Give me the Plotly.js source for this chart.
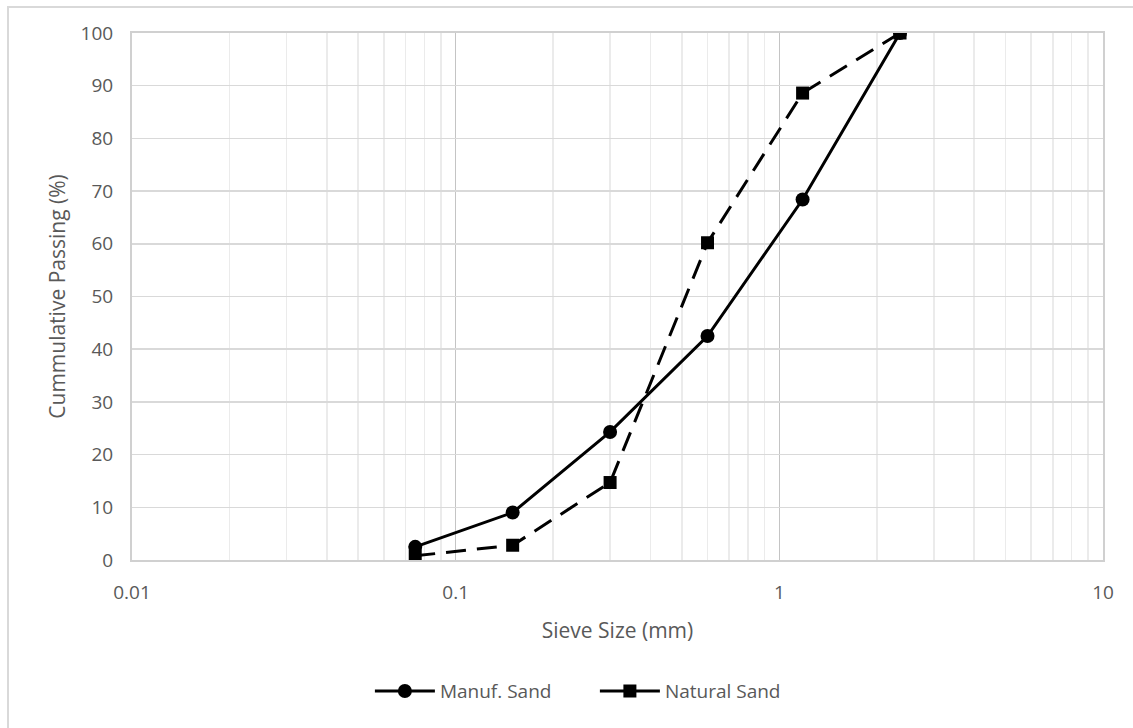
<!DOCTYPE html>
<html>
<head>
<meta charset="utf-8">
<script src="https://cdn.plot.ly/plotly-3.0.1.min.js"></script>
<style>
  html, body { margin: 0; padding: 0; background: #ffffff; }
  #frame { position: absolute; left: 7px; top: 6px; width: 1140px; height: 740px;
           border-left: 2px solid #d9d9d9; border-top: 2px solid #d9d9d9; pointer-events: none; }
  #chart { position: absolute; left: 0; top: 0; width: 1133px; height: 728px; }
</style>
</head>
<body>
<div id="chart"></div>
<div id="frame"></div>
<script>
// Sieve sizes (mm) and cumulative percentage passing for each sand
const sieveSizes = [0.075, 0.15, 0.3, 0.6, 1.18, 2.36];
const manufSand = [2.5, 9.0, 24.3, 42.5, 68.4, 100];
const naturalSand = [0.8, 2.8, 14.7, 60.2, 88.6, 100];
const seriesNames = ['Manuf. Sand', 'Natural Sand'];
const markerSymbols = ['circle', 'square'];
const xTickVals = [0.01, 0.1, 1, 10];
const xTickText = ['0.01', '0.1', '1', '10'];

const fontFamily = 'Open Sans, Noto Sans, sans-serif';
const textColor = '#595959';

const traces = [
  {
    x: sieveSizes, y: manufSand, name: seriesNames[0], showlegend: false,
    type: 'scatter', mode: 'lines+markers',
    line: { color: '#000000', width: 3 },
    marker: { symbol: markerSymbols[0], size: 14, color: '#000000' }
  },
  {
    x: sieveSizes, y: naturalSand, name: seriesNames[1], showlegend: false,
    type: 'scatter', mode: 'lines+markers',
    line: { color: '#000000', width: 3, dash: '20px,11px' },
    marker: { symbol: markerSymbols[1], size: 13, color: '#000000' }
  }
];

// Legend keys are drawn with a solid line for both series
seriesNames.forEach(function (name, i) {
  traces.push({
    x: [null], y: [null], name: name, type: 'scatter', mode: 'lines+markers',
    line: { color: '#000000', width: 3 },
    marker: { symbol: markerSymbols[i], size: 14 - i, color: '#000000' }
  });
});

const layout = {
  width: 1133, height: 728,
  margin: { l: 132, r: 30, t: 33, b: 168 },
  paper_bgcolor: 'rgba(0,0,0,0)',
  plot_bgcolor: '#ffffff',
  font: { family: fontFamily, size: 19, color: textColor },
  showlegend: true,
  legend: {
    orientation: 'h', x: 0.245, xanchor: 'left', y: -0.249, yanchor: 'middle',
    font: { family: fontFamily, size: 19, color: textColor },
    entrywidth: 150, itemwidth: 60, traceorder: 'normal'
  },
  xaxis: {
    type: 'log', range: [-2, 1],
    tickvals: xTickVals, ticktext: xTickText,
    tickfont: { size: 19 },
    showgrid: true, gridcolor: '#c4c4c4', gridwidth: 1.5,
    minor: { dtick: 'D1', showgrid: true, gridcolor: '#ebebeb', gridwidth: 1.5, ticks: '' },
    showline: true, linecolor: '#d0d0d0', linewidth: 2, mirror: true,
    ticks: '', ticklabelstandoff: 14, zeroline: false,
    title: { text: 'Sieve Size (mm)', standoff: 20, font: { family: fontFamily, size: 21, color: textColor } }
  },
  yaxis: {
    range: [0, 100], dtick: 10,
    tickfont: { size: 19 },
    showgrid: true, gridcolor: '#d9d9d9', gridwidth: 1.5,
    showline: true, linecolor: '#d0d0d0', linewidth: 2, mirror: true,
    ticks: '', ticklabelstandoff: 13, zeroline: false,
    title: { text: 'Cummulative Passing (%)', standoff: 9, font: { family: fontFamily, size: 21, color: textColor } }
  }
};

Plotly.newPlot('chart', traces, layout, { displayModeBar: false, staticPlot: true });
</script>
</body>
</html>
